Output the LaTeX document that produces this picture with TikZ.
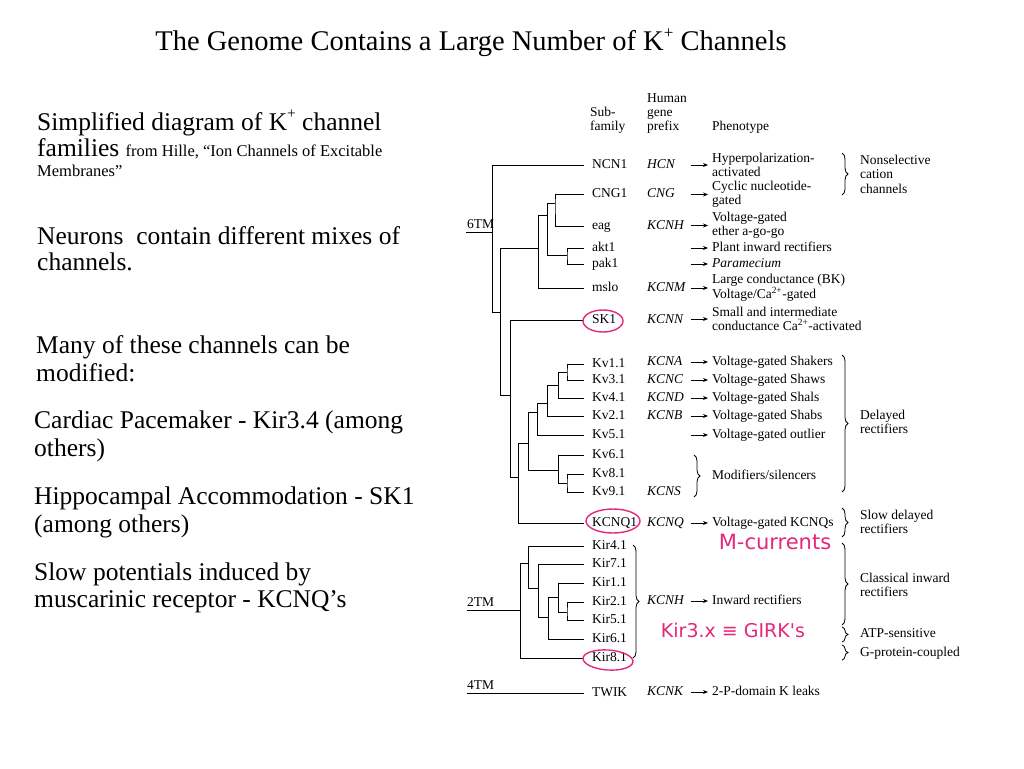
\documentclass[tikz,border=0pt]{standalone}
\usepackage{fontspec}
\setmainfont{Liberation Serif}
\newfontfamily\handfont{DejaVu Sans}
\usetikzlibrary{decorations.pathreplacing,arrows.meta}
\definecolor{pinkink}{RGB}{228,40,122}
\newcommand\bigtxt{\fontsize{25.5}{27}\selectfont}
\newcommand\titletxt{\fontsize{28.5}{30}\selectfont}
\newcommand\smalltxt{\fontsize{16.5}{18}\selectfont}
\newcommand\dfont{\fontsize{13.5}{14.5}\selectfont}
\newcommand\supp[1]{\raisebox{0.45em}{\scalebox{0.6}{#1}}}
\tikzset{
  txt/.style={anchor=base west, inner sep=0pt, font=\bigtxt},
  leaf/.style={anchor=west, inner ysep=0pt, inner xsep=0pt, outer xsep=8pt, font=\dfont, text height=9pt, text depth=3pt},
  pref/.style={anchor=west, inner sep=0pt, font=\dfont\itshape, text height=9pt, text depth=3pt},
  pheno/.style={anchor=west, inner ysep=0pt, inner xsep=0pt, outer xsep=4pt, font=\dfont, align=left},
  head/.style={anchor=base west, inner sep=0pt, font=\dfont},
  grp/.style={anchor=west, inner sep=0pt, font=\dfont, align=left},
  tree/.style={line width=0.8pt},
  arr/.style={line width=0.8pt, -{Stealth[length=5pt,width=4pt]}},
  brc/.style={line width=0.8pt, decorate, decoration={brace, amplitude=6pt}},
  ink/.style={pinkink, line width=1.4pt},
  hand/.style={pinkink, inner sep=0pt, font=\handfont\fontsize{19}{20}\selectfont}
}
\begin{document}
\begin{tikzpicture}[x=1pt, y=-1pt]
\useasboundingbox[fill=white] (0,0) rectangle (1024,768);

% title
\node[anchor=base, inner sep=0pt, font=\titletxt] (title) at (471,51) {The Genome Contains a Large Number of K\supp{+} Channels};

% left text
\node[txt] (l1) at (37,130) {Simplified diagram of K\supp{+} channel};
\node[txt] (l2) at (37,156) {families {\smalltxt from Hille, “Ion Channels of Excitable}};
\node[txt, font=\smalltxt] (l3) at (37,176) {Membranes”};
\node[txt] (l4) at (37,244) {Neurons\ \ contain different mixes of};
\node[txt] (l5) at (37,270) {channels.};
\node[txt] (l6) at (36,353) {Many of these channels can be};
\node[txt] (l7) at (36,381) {modified:};
\node[txt] (l8) at (34,428) {Cardiac Pacemaker - Kir3.4 (among};
\node[txt] (l9) at (34,456) {others)};
\node[txt] (l10) at (34,504) {Hippocampal Accommodation - SK1};
\node[txt] (l11) at (34,532) {(among others)};
\node[txt] (l12) at (34,580) {Slow potentials induced by};
\node[txt] (l13) at (34,607) {muscarinic receptor - KCNQ’s};

% headers
\node[head] (h1) at (590,116) {Sub-};
\node[head] (h2) at (590,130) {family};
\node[head] (h3) at (647,102) {Human};
\node[head] (h4) at (647,116) {gene};
\node[head] (h5) at (647,130) {prefix};
\node[head] (h6) at (712,130) {Phenotype};

% leaves
\foreach \nm/\lab/\yy in {NCN1/NCN1/165, CNG1/CNG1/194, eag/eag/226, akt1/akt1/248, pak1/pak1/264, mslo/mslo/288, SK1/SK1/320,
  Kv11/Kv1.1/364, Kv31/Kv3.1/380, Kv41/Kv4.1/398, Kv21/Kv2.1/416, Kv51/Kv5.1/435, Kv61/Kv6.1/455, Kv81/Kv8.1/474, Kv91/Kv9.1/492,
  KCNQ1/KCNQ1/523, Kir41/Kir4.1/546, Kir71/Kir7.1/564, Kir11/Kir1.1/583, Kir21/Kir2.1/602, Kir51/Kir5.1/620, Kir61/Kir6.1/639,
  Kir81/Kir8.1/658, TWIK/TWIK/693}
  \node[leaf] (\nm) at (584,\yy) {\lab};

% group labels
\node[anchor=base west, inner sep=0pt, font=\dfont] (t6) at (467,228) {6TM};
\node[anchor=base west, inner sep=0pt, font=\dfont] (t2) at (467,606) {2TM};
\node[anchor=base west, inner sep=0pt, font=\dfont] (t4) at (467,689) {4TM};

% 6TM tree
\draw[tree] (466,232) -- (492,232);
\draw[tree] (NCN1.west) -| (492,312);
\draw[tree] (492,312) -- (500,312);
\draw[tree] (500,248) -- (500,395);
\draw[tree] (500,248) -- (538,248);
\draw[tree] (538,215) |- (mslo.west);
\draw[tree] (538,215) -- (547,215);
\draw[tree] (547,203) -- (547,255);
\draw[tree] (547,203) -- (555,203);
\draw[tree] (CNG1.west) -| (555,203) |- (eag.west);
\draw[tree] (547,255) -- (567,255);
\draw[tree] (akt1.west) -| (567,255) |- (pak1.west);
\draw[tree] (500,395) -- (510,395);
\draw[tree] (SK1.west) -| (510,477);
\draw[tree] (510,477) -- (518,477);
\draw[tree] (518,443) |- (KCNQ1.west);
\draw[tree] (518,443) -- (528,443);
\draw[tree] (528,412) -- (528,470);
\draw[tree] (528,412) -- (537,412);
\draw[tree] (537,403) |- (Kv51.west);
\draw[tree] (537,403) -- (547,403);
\draw[tree] (547,385) |- (Kv21.west);
\draw[tree] (547,385) -- (558,385);
\draw[tree] (558,372) |- (Kv41.west);
\draw[tree] (558,372) -- (567,372);
\draw[tree] (Kv11.west) -| (567,372) |- (Kv31.west);
\draw[tree] (528,470) -- (558,470);
\draw[tree] (Kv61.west) -| (558,483);
\draw[tree] (558,483) -- (567,483);
\draw[tree] (Kv81.west) -| (567,483) |- (Kv91.west);

% 2TM tree
\draw[tree] (467,610) -- (520,610);
\draw[tree] (520,563) |- (Kir81.west);
\draw[tree] (520,563) -- (528,563);
\draw[tree] (Kir41.west) -| (528,588);
\draw[tree] (528,588) -- (538,588);
\draw[tree] (Kir71.west) -| (538,617);
\draw[tree] (538,617) -- (548,617);
\draw[tree] (548,597) |- (Kir61.west);
\draw[tree] (548,597) -- (558,597);
\draw[tree] (Kir11.west) -| (558,612);
\draw[tree] (558,612) -- (567,612);
\draw[tree] (Kir21.west) -| (567,612) |- (Kir51.west);

% 4TM
\draw[tree] (467,693) -- (TWIK.west);

% prefixes
\foreach \nm/\lab/\yy in {pHCN/HCN/165, pCNG/CNG/194, pKCNH/KCNH/226, pKCNM/KCNM/288, pKCNN/KCNN/320, pKCNA/KCNA/362,
  pKCNC/KCNC/380, pKCND/KCND/398, pKCNB/KCNB/416, pKCNS/KCNS/492, pKCNQ/KCNQ/523, pKCNHb/KCNH/601, pKCNK/KCNK/692}
  \node[pref] (\nm) at (647,\yy) {\lab};

% phenotypes
\node[pheno] (f1) at (708,165) {Hyperpolarization-\\activated};
\node[pheno] (f2) at (708,194.5) {Cyclic nucleotide-\\gated};
\node[pheno] (f3) at (708,225.5) {Voltage-gated\\ether a-go-go};
\node[pheno, text height=9pt, text depth=3pt] (f4) at (708,248) {Plant inward rectifiers};
\node[pheno, text height=9pt, text depth=3pt] (f5) at (708,264) {\textit{Paramecium}};
\node[pheno] (f6) at (708,288) {Large conductance (BK)\\Voltage/Ca\textsuperscript{2+}-gated};
\node[pheno] (f7) at (708,319) {Small and intermediate\\conductance Ca\textsuperscript{2+}-activated};
\node[pheno, text height=9pt, text depth=3pt] (f8) at (708,362) {Voltage-gated Shakers};
\node[pheno, text height=9pt, text depth=3pt] (f9) at (708,380) {Voltage-gated Shaws};
\node[pheno, text height=9pt, text depth=3pt] (f10) at (708,398) {Voltage-gated Shals};
\node[pheno, text height=9pt, text depth=3pt] (f11) at (708,416) {Voltage-gated Shabs};
\node[pheno, text height=9pt, text depth=3pt] (f12) at (708,435) {Voltage-gated outlier};
\node[pheno, text height=9pt, text depth=3pt] (f13) at (708,523) {Voltage-gated KCNQs};
\node[pheno, text height=9pt, text depth=3pt] (f14) at (708,601) {Inward rectifiers};
\node[pheno, text height=9pt, text depth=3pt] (f15) at (708,692) {2-P-domain K leaks};
\node[pheno, text height=9pt, text depth=3pt] (f16) at (708,476) {Modifiers/silencers};

\foreach \f/\yy in {f1/165, f2/194.5, f3/225.5, f4/248, f5/264, f6/288, f7/319, f8/362, f9/380, f10/398, f11/416, f12/435, f13/523, f14/601, f15/692}
  \draw[arr] (691,\yy) -- (\f.west);

% braces
\draw[brc] (842,153) -- (842,195);
\draw[brc] (842,355) -- (842,492);
\draw[brc] (694,455) -- (694,497);
\draw[brc] (842,508) -- (842,537);
\draw[brc] (633,545) -- (633,658);
\draw[brc] (842,543) -- (842,625);
\draw[brc] (842,627) -- (842,642);
\draw[brc] (842,645) -- (842,660);

% group texts
\node[grp] (g1) at (860,174) {Nonselective\\cation\\channels};
\node[grp] (g2) at (860,422) {Delayed\\rectifiers};
\node[grp] (g3) at (860,522) {Slow delayed\\rectifiers};
\node[grp] (g4) at (860,585) {Classical inward\\rectifiers};
\node[grp, text height=9pt, text depth=3pt] (g5) at (860,634) {ATP-sensitive};
\node[grp, text height=9pt, text depth=3pt] (g6) at (860,653) {G-protein-coupled};

% pink annotations
\draw[ink] (603,321) ellipse [x radius=20, y radius=11];
\draw[ink] (613,521) ellipse [x radius=27, y radius=12];
\draw[ink, rotate around={-4:(608,660)}] (608,660) ellipse [x radius=25, y radius=10];
\node[hand, font=\handfont\fontsize{21}{22}\selectfont] (m) at (775,542) {M-currents};
\node[hand] (gk) at (733,630) {Kir3.x ≡ GIRK's};
\end{tikzpicture}
\end{document}
